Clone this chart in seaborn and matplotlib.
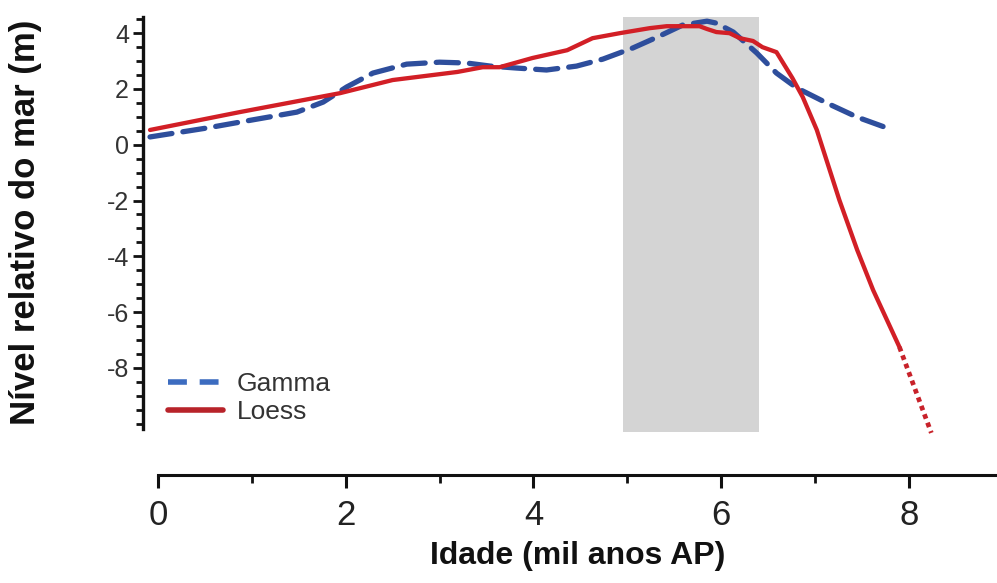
import numpy as np
import pandas as pd
import matplotlib
matplotlib.use("Agg")
import matplotlib.pyplot as plt
import seaborn as sns
from matplotlib.lines import Line2D

# ---- data ----
gamma_x = [-0.085, 0.52, 0.87, 1.48, 1.76, 2.01, 2.29, 2.65, 3.00, 3.29, 3.54, 3.82,
           4.14, 4.46, 4.74, 5.06, 5.32, 5.59, 5.85, 5.95, 6.13, 6.38, 6.59, 6.81,
           7.13, 7.45, 7.77]
gamma_y = [0.28, 0.60, 0.81, 1.17, 1.53, 2.07, 2.57, 2.89, 2.96, 2.93, 2.82, 2.75,
           2.68, 2.82, 3.07, 3.47, 3.86, 4.29, 4.43, 4.36, 4.04, 3.29, 2.57, 2.03,
           1.49, 0.99, 0.60]

loess_x = [-0.085, 0.87, 1.94, 2.50, 3.19, 3.46, 3.64, 3.99, 4.36, 4.63, 4.92, 5.24,
           5.42, 5.77, 5.85, 5.95, 6.09, 6.20, 6.34, 6.44, 6.59, 6.76, 6.87, 7.02,
           7.26, 7.45, 7.62, 7.90]
loess_y = [0.53, 1.17, 1.85, 2.32, 2.61, 2.78, 2.78, 3.11, 3.39, 3.82, 4.00, 4.18,
           4.25, 4.25, 4.15, 4.04, 4.00, 3.82, 3.72, 3.50, 3.32, 2.39, 1.71, 0.53,
           -1.98, -3.77, -5.21, -7.25]

loess_ext_x = [7.90, 8.24]
loess_ext_y = [-7.25, -10.33]

band = [4.95, 6.40]
x_ticks = [0, 2, 4, 6, 8]
y_ticks = [-8, -6, -4, -2, 0, 2, 4]

labels = ["Gamma", "Loess"]
xlabel = "Idade (mil anos AP)"
ylabel = "Nível relativo do mar (m)"

# ---- style ----
sns.set_theme(style="white")
plt.rcParams["font.family"] = ["Liberation Sans", "DejaVu Sans"]

W, H = 997, 583
fig = plt.figure(figsize=(W / 100, H / 100), dpi=100)
ax = fig.add_axes([143 / W, 108 / H, 854 / W, 458 / H])

XMIN, XMAX = -0.16, 8.94
YMIN, YMAX = -11.84, 4.58
ax.set_xlim(XMIN, XMAX)
ax.set_ylim(YMIN, YMAX)

RED = "#d21f26"
BLUE = "#2e4e9c"

ax.fill_betweenx([-10.3, YMAX], band[0], band[1], color="#d4d4d4", lw=0, zorder=0)

df_g = pd.DataFrame({"x": gamma_x, "y": gamma_y})
df_l = pd.DataFrame({"x": loess_x, "y": loess_y})
df_e = pd.DataFrame({"x": loess_ext_x, "y": loess_ext_y})

sns.lineplot(data=df_g, x="x", y="y", ax=ax, color=BLUE, lw=3.8, sort=False,
             estimator=None, zorder=3)
ax.lines[-1].set_dashes((4.2, 2.1))
ax.lines[-1].set_dash_capstyle("round")
sns.lineplot(data=df_l, x="x", y="y", ax=ax, color=RED, lw=3.1, sort=False,
             estimator=None, zorder=4)
sns.lineplot(data=df_e, x="x", y="y", ax=ax, color="#c8222a", lw=3.4, sort=False,
             estimator=None, zorder=4)
ax.lines[-1].set_dashes((1.0, 0.9))

# spines
for s in ["top", "right"]:
    ax.spines[s].set_visible(False)
ax.spines["left"].set_bounds(-10.2, YMAX)
ax.spines["left"].set_linewidth(2.4)
ax.spines["left"].set_color("#111111")
ax.spines["bottom"].set_bounds(0, XMAX)
ax.spines["bottom"].set_linewidth(2.2)
ax.spines["bottom"].set_color("#111111")

ax.set_xticks(x_ticks)
ax.set_xticks([1, 3, 5, 7], minor=True)
ax.set_yticks(y_ticks)
ax.set_yticks([v for v in np.arange(-10, 4.51, 0.5) if v not in y_ticks], minor=True)
ax.set_xticklabels([str(v) for v in x_ticks])
ax.set_yticklabels([str(v) for v in y_ticks])

ax.tick_params(axis="x", which="major", direction="out", length=9.5, width=2.2,
               color="#111111", labelsize=25, pad=8, labelcolor="#222222", bottom=True)
ax.tick_params(axis="x", which="minor", direction="out", length=6, width=2.0,
               color="#111111", bottom=True)
ax.tick_params(axis="y", which="major", direction="out", length=7, width=2.0,
               color="#111111", labelsize=18, pad=3, labelcolor="#333333", left=True)
ax.tick_params(axis="y", which="minor", direction="out", length=5, width=2.0,
               color="#111111", left=True)
ax.set_xlabel("")
ax.set_ylabel("")
ax.grid(False)

fig.text(26 / W, 1 - 222 / H, ylabel, rotation=90, ha="center", va="center",
         fontsize=25, fontweight="bold", color="#111111")
fig.text(578 / W, 1 - 556 / H, xlabel, ha="center", va="center",
         fontsize=23, fontweight="bold", color="#111111")

handles = [Line2D([], [], color="#3c6cc0", lw=4.0, dashes=(3.4, 2.3)),
           Line2D([], [], color="#b8232a", lw=4.0)]
ax.legend(handles, labels, loc="upper left", bbox_to_anchor=((168 - 143) / 854, (475 - 372) / 458),
          frameon=False, fontsize=19, handlelength=2.1, handletextpad=0.5,
          labelspacing=0.15, borderpad=0, borderaxespad=0, labelcolor="#333333")

fig.savefig("out.png", dpi=100, facecolor="white")
